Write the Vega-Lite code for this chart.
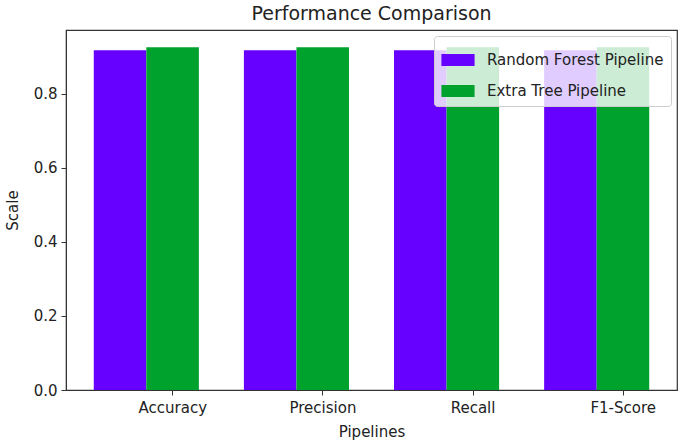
{
  "$schema": "https://vega.github.io/schema/vega-lite/v6.json",
  "width": 611,
  "height": 360,
  "autosize": "none",
  "padding": {"left": 66, "top": 30, "right": 8, "bottom": 56},
  "background": "white",
  "title": {"text": "Performance Comparison", "fontSize": 19, "font": "DejaVu Sans", "fontWeight": "normal", "color": "#222", "offset": 6},
  "config": {
    "font": "DejaVu Sans",
    "view": {"stroke": "#333", "strokeWidth": 1.2},
    "axis": {"domainColor": "#333", "tickColor": "#333", "labelColor": "#222", "titleColor": "#222", "labelFontSize": 15, "titleFontSize": 15, "titleFontWeight": "normal", "grid": false, "tickSize": 5}
  },
  "data": {"values": [
    {"metric": "Accuracy", "pipeline": "Random Forest Pipeline", "value": 0.918},
    {"metric": "Accuracy", "pipeline": "Extra Tree Pipeline", "value": 0.926},
    {"metric": "Precision", "pipeline": "Random Forest Pipeline", "value": 0.918},
    {"metric": "Precision", "pipeline": "Extra Tree Pipeline", "value": 0.926},
    {"metric": "Recall", "pipeline": "Random Forest Pipeline", "value": 0.918},
    {"metric": "Recall", "pipeline": "Extra Tree Pipeline", "value": 0.926},
    {"metric": "F1-Score", "pipeline": "Random Forest Pipeline", "value": 0.918},
    {"metric": "F1-Score", "pipeline": "Extra Tree Pipeline", "value": 0.926}
  ]},
  "mark": {"type": "bar"},
  "encoding": {
    "x": {"field": "metric", "type": "nominal", "sort": ["Accuracy", "Precision", "Recall", "F1-Score"],
      "scale": {"paddingInner": 0.3, "paddingOuter": 0.185},
      "axis": {"title": "Pipelines", "labelAngle": 0, "tickOffset": 26, "labelPadding": 5, "titlePadding": 9}},
    "xOffset": {"field": "pipeline", "type": "nominal", "sort": ["Random Forest Pipeline", "Extra Tree Pipeline"]},
    "y": {"field": "value", "type": "quantitative",
      "scale": {"domain": [0, 0.9725], "nice": false, "zero": true},
      "axis": {"title": "Scale", "values": [0, 0.2, 0.4, 0.6, 0.8], "format": ".1f", "labelPadding": 4, "titlePadding": 13}},
    "color": {"field": "pipeline", "type": "nominal", "sort": ["Random Forest Pipeline", "Extra Tree Pipeline"],
      "scale": {"domain": ["Random Forest Pipeline", "Extra Tree Pipeline"], "range": ["#6600ff", "#00a22e"]},
      "legend": {"title": null, "orient": "top-right", "offset": 6, "fillColor": "rgba(255,255,255,0.8)", "strokeColor": "#cccccc", "cornerRadius": 3, "padding": 7,
        "labelFontSize": 15, "labelColor": "#222", "labelLimit": 300, "symbolType": "M-1,-0.36H1V0.36H-1Z", "symbolSize": 1100, "symbolStrokeWidth": 0, "symbolOpacity": 1, "rowPadding": 6, "labelOffset": 12}}
  }
}
